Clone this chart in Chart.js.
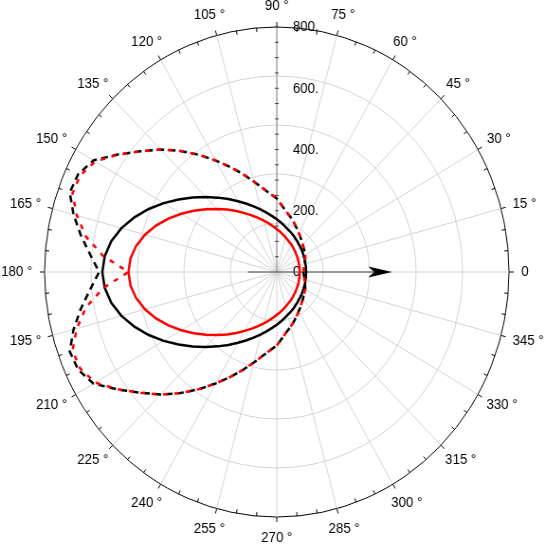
<!DOCTYPE html>
<html>
<head>
<meta charset="utf-8">
<script src="https://cdn.jsdelivr.net/npm/chart.js@4/dist/chart.umd.min.js"></script>
<style>
  html, body { margin: 0; padding: 0; background: #fff; overflow: hidden; }
</style>
</head>
<body>
<!-- the plot is a little narrower than it is tall, so the canvas is squeezed -->
<canvas id="polar" width="575" height="545" style="display:block;width:545px;height:545px"></canvas>
<script>
// one sample every 5 deg, counter-clockwise from the right (0, 5, ... 355)
const sampleAngles = [];
for (let a = 0; a < 360; a += 5) sampleAngles.push(a);

const blackSolid = [101, 101, 102, 102, 104, 105, 107, 109, 112, 115, 118, 123, 127, 133, 139, 145, 153, 162,
  172, 183, 196, 211, 227, 246, 267, 291, 317, 346, 379, 413, 450, 487, 522, 554, 579, 595,
  601, 595, 579, 554, 522, 487, 450, 413, 379, 346, 317, 291, 267, 246, 227, 211, 196, 183,
  172, 162, 153, 145, 139, 133, 127, 123, 118, 115, 112, 109, 107, 105, 104, 102, 102, 101];
const redSolid = [79, 79, 80, 80, 81, 83, 84, 86, 88, 91, 94, 98, 102, 106, 111, 117, 124, 132,
  140, 150, 161, 174, 188, 204, 222, 243, 266, 291, 319, 349, 380, 412, 443, 470, 492, 506,
  511, 506, 492, 470, 443, 412, 380, 349, 319, 291, 266, 243, 222, 204, 188, 174, 161, 150,
  140, 132, 124, 117, 111, 106, 102, 98, 94, 91, 88, 86, 84, 83, 81, 80, 80, 79];
const blackDashed = [92, 93, 96, 99, 103, 108, 113, 117, 121, 127, 133, 141, 150, 160, 172, 185, 198, 216,
  240, 256, 278, 306, 340, 378, 420, 467, 516, 566, 613, 669, 729, 755, 759, 725, 685, 645,
  612, 645, 685, 725, 759, 755, 729, 669, 613, 566, 516, 467, 420, 378, 340, 306, 278, 256,
  240, 216, 198, 185, 172, 160, 150, 141, 133, 127, 121, 117, 113, 108, 103, 99, 96, 93];
const redDashed = [92, 93, 96, 99, 103, 108, 113, 117, 121, 127, 133, 141, 150, 160, 172, 185, 198, 216,
  240, 256, 278, 306, 340, 378, 420, 467, 516, 566, 613, 668, 722, 747, 749, 713, 668, 600,
  511, 600, 668, 713, 749, 747, 722, 668, 613, 566, 516, 467, 420, 378, 340, 306, 278, 256,
  240, 216, 198, 185, 172, 160, 150, 141, 133, 127, 121, 117, 113, 108, 103, 99, 96, 93];

// radial axis
const rMax = 800;
const gridStep = 160;
const axisTickValues = [0, 200, 400, 600, 800];
const axisTickLabels = ["0", "200.", "400.", "600.", "800."];
const axisMinorStep = 50;

// the arrow along 0 deg (starts a little behind the centre)
const arrowFrom = 100;
const arrowTo = 397;

// radar spokes run clockwise on screen, so list the angles in that order
const spokeAngles = sampleAngles.map(a => (360 - a) % 360);

function spokeIndex(a) {
  return spokeAngles.indexOf(a);
}

function radarData(values) {
  return spokeAngles.map(a => values[sampleAngles.indexOf(a)]);
}

const GRID = "#d4d4d4";
const FONT = '14px "Liberation Sans", Arial, sans-serif';

const polarDecor = {
  id: "polarDecor",
  beforeDatasetsDraw(chart) {
    const scale = chart.scales.r;
    const ctx = chart.ctx;
    const R = scale.drawingArea;
    const cx = scale.xCenter, cy = scale.yCenter;
    ctx.save();

    // ticks on the outer ring: 15 deg out, 5 deg in
    ctx.strokeStyle = "#000";
    ctx.lineWidth = 1;
    ctx.beginPath();
    spokeAngles.forEach((a, i) => {
      const major = a % 15 === 0;
      const p1 = scale.getPointPosition(i, major ? R : R - 4);
      const p2 = scale.getPointPosition(i, major ? R + 5 : R);
      ctx.moveTo(p1.x, p1.y);
      ctx.lineTo(p2.x, p2.y);
    });
    ctx.stroke();

    // radial axis up the 90 deg spoke
    const i90 = spokeIndex(90);
    const top = scale.getPointPositionForValue(i90, rMax);
    ctx.strokeStyle = "#8a8a8a";
    ctx.beginPath();
    ctx.moveTo(cx, cy);
    ctx.lineTo(top.x, top.y);
    ctx.stroke();
    ctx.strokeStyle = "#444";
    ctx.beginPath();
    for (let v = axisMinorStep; v <= rMax; v += axisMinorStep) {
      const p = scale.getPointPositionForValue(i90, v);
      ctx.moveTo(p.x - 2, p.y);
      ctx.lineTo(p.x + 2, p.y);
    }
    ctx.stroke();

    ctx.font = FONT;
    ctx.fillStyle = "#000";
    ctx.textAlign = "left";
    ctx.textBaseline = "middle";
    axisTickValues.forEach((v, k) => {
      const p = scale.getPointPositionForValue(i90, v);
      ctx.fillText(axisTickLabels[k], p.x + 17, p.y + 0.5);
    });

    // arrow
    const from = scale.getPointPositionForValue(spokeIndex(180), arrowFrom);
    const tip = scale.getPointPositionForValue(spokeIndex(0), arrowTo);
    ctx.strokeStyle = "#444";
    ctx.beginPath();
    ctx.moveTo(from.x, from.y);
    ctx.lineTo(tip.x - 20, tip.y);
    ctx.stroke();
    ctx.fillStyle = "#000";
    ctx.beginPath();
    ctx.moveTo(tip.x, tip.y);
    ctx.lineTo(tip.x - 25, tip.y - 5.5);
    ctx.lineTo(tip.x - 19, tip.y);
    ctx.lineTo(tip.x - 25, tip.y + 5.5);
    ctx.closePath();
    ctx.fill();

    // angle labels
    ctx.textAlign = "center";
    spokeAngles.forEach((a, i) => {
      if (a % 15 !== 0) return;
      const text = a === 0 ? "0" : a + " \u00b0";
      const w = ctx.measureText(text).width;
      const p = scale.getPointPosition(i, R + 13);
      const rad = a * Math.PI / 180;
      const x = p.x + Math.cos(rad) * w / 2;
      const y = p.y - Math.sin(rad) * 8;
      ctx.fillText(text, x, y + 0.5);
    });

    ctx.restore();
  }
};

const common = { fill: false, pointRadius: 0, pointHoverRadius: 0, tension: 0, borderWidth: 2.5 };

new Chart(document.getElementById("polar"), {
  type: "radar",
  data: {
    labels: spokeAngles,
    datasets: [
      // red dashes sit in the gaps of the black ones where the two curves overlap
      Object.assign({ label: "red dashed", data: radarData(redDashed), borderColor: "#ff0000",
        borderDash: [5, 7], borderDashOffset: 7 }, common),
      Object.assign({ label: "black dashed", data: radarData(blackDashed), borderColor: "#000000",
        borderDash: [7, 5] }, common),
      Object.assign({ label: "red", data: radarData(redSolid), borderColor: "#ff0000" }, common),
      Object.assign({ label: "black", data: radarData(blackSolid), borderColor: "#000000" }, common)
    ]
  },
  options: {
    responsive: false,
    maintainAspectRatio: false,
    animation: false,
    devicePixelRatio: 1,
    layout: { padding: { left: 47, right: 38, top: 27, bottom: 28 } },
    plugins: { legend: { display: false }, tooltip: { enabled: false } },
    scales: {
      r: {
        min: 0,
        max: rMax,
        startAngle: 90,
        ticks: { display: false, stepSize: gridStep },
        pointLabels: { display: false },
        grid: {
          circular: true,
          lineWidth: 1,
          color: (c) => (c.tick && c.tick.value === rMax ? "#000" : GRID)
        },
        angleLines: {
          color: GRID,
          lineWidth: (c) => (c.index % 3 === 0 ? 1 : 0)
        }
      }
    }
  },
  plugins: [polarDecor]
});
</script>
</body>
</html>
